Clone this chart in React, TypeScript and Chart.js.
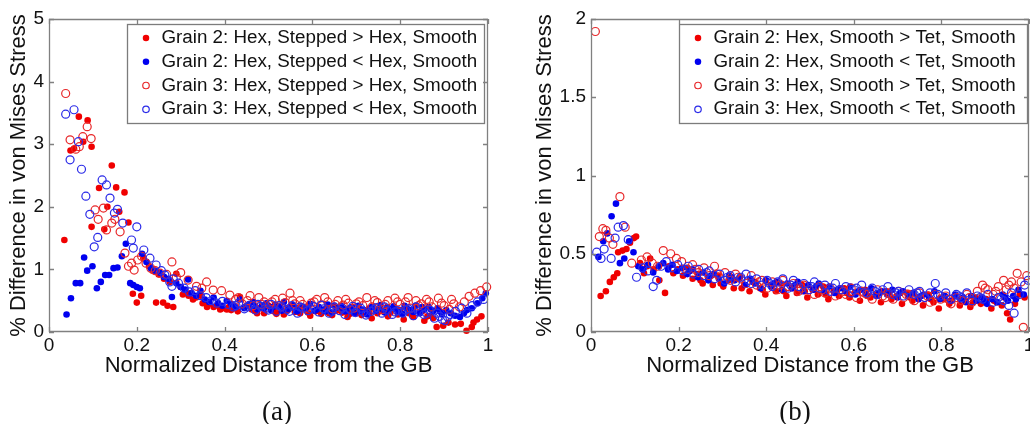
import React, { useEffect, useRef } from "react";
import { Chart, registerables } from "chart.js";

Chart.register(...registerables);

const SANS = "'Liberation Sans', Arial, Helvetica, sans-serif";
const SERIF = "'Liberation Serif', 'Times New Roman', serif";

// ---------- labels ----------
const xTitle = "Normalized Distance from the GB";
const yTitle = "% Difference in von Mises Stress";
const legendA = [
  "Grain 2: Hex, Stepped > Hex, Smooth",
  "Grain 2: Hex, Stepped < Hex, Smooth",
  "Grain 3: Hex, Stepped > Hex, Smooth",
  "Grain 3: Hex, Stepped < Hex, Smooth",
];
const legendB = [
  "Grain 2: Hex, Smooth > Tet, Smooth",
  "Grain 2: Hex, Smooth < Tet, Smooth",
  "Grain 3: Hex, Smooth > Tet, Smooth",
  "Grain 3: Hex, Smooth < Tet, Smooth",
];
const captionA = "(a)";
const captionB = "(b)";

// ---------- panel (a) data: [normalized distance, % difference] ----------
const a_g2Gt: number[][] = [
  [0.035,1.47],[0.049,2.90],[0.057,2.93],[0.068,3.44],[0.078,3.04],[0.088,3.38],[0.097,2.96],[0.097,1.68],
  [0.114,2.30],[0.126,1.64],[0.133,2.00],[0.143,2.66],[0.153,2.31],[0.160,1.92],[0.172,2.23],[0.181,1.75],
  [0.191,0.61],[0.200,0.47],[0.210,0.58],[0.244,0.47],[0.260,0.47],[0.270,0.42],[0.283,0.40],
  [0.215,1.18],[0.228,1.05],[0.236,0.98],[0.250,0.92],[0.262,0.85],[0.275,0.80],[0.290,0.93],[0.300,0.72],
  [0.310,0.66],[0.322,0.62],[0.335,0.55],[0.345,0.58],[0.355,0.50],[0.365,0.45],[0.375,0.40],[0.385,0.42],
  [0.395,0.38],[0.405,0.36],[0.415,0.35],[0.425,0.38],[0.435,0.56],[0.445,0.40],[0.455,0.44],[0.468,0.34],
  [0.480,0.38],[0.490,0.30],[0.500,0.42],[0.512,0.33],[0.525,0.36],[0.535,0.28],[0.548,0.40],[0.560,0.32],
  [0.572,0.30],[0.585,0.37],[0.595,0.26],[0.608,0.33],[0.620,0.29],[0.632,0.38],[0.645,0.27],[0.655,0.34],
  [0.668,0.31],[0.680,0.24],[0.690,0.36],[0.700,0.30],[0.712,0.27],[0.725,0.35],[0.735,0.22],[0.748,0.30],
  [0.760,0.33],[0.772,0.25],[0.785,0.38],[0.795,0.28],[0.808,0.20],[0.820,0.30],[0.830,0.24],[0.845,0.32],
  [0.855,0.18],[0.868,0.26],[0.875,0.22],[0.883,0.08],[0.898,0.10],[0.910,0.15],[0.925,0.12],[0.938,0.13],
  [0.951,0.02],[0.963,0.08],[0.967,0.15],[0.975,0.20],[0.985,0.25],
  [0.305,0.60],[0.318,0.58],[0.328,0.52],[0.350,0.46],[0.360,0.40],[0.390,0.36],[0.410,0.40],[0.430,0.33],
  [0.462,0.36],[0.474,0.30],[0.506,0.37],[0.518,0.29],[0.542,0.34],[0.566,0.38],[0.590,0.31],[0.614,0.36],
  [0.638,0.30],[0.662,0.37],[0.686,0.29],[0.706,0.33],[0.730,0.30],[0.754,0.36],[0.778,0.31],[0.800,0.35],
  [0.826,0.29],[0.850,0.33],[0.862,0.25],
];
const a_g2Lt: number[][] = [
  [0.040,0.28],[0.050,0.54],[0.061,0.78],[0.071,0.78],[0.080,1.19],[0.087,0.98],[0.099,1.05],[0.109,0.70],
  [0.118,0.80],[0.128,0.91],[0.137,0.91],[0.147,1.02],[0.156,1.03],[0.166,1.21],[0.175,1.41],[0.185,0.78],
  [0.192,0.75],[0.200,0.72],[0.207,0.70],
  [0.212,1.25],[0.222,1.12],[0.232,1.02],[0.242,0.98],[0.252,0.95],[0.262,0.88],[0.272,0.85],[0.280,0.56],
  [0.290,0.78],[0.300,0.72],[0.310,0.68],[0.317,0.84],[0.325,0.62],[0.335,0.58],[0.345,0.66],[0.355,0.52],
  [0.365,0.48],[0.375,0.55],[0.385,0.46],[0.395,0.42],[0.405,0.50],[0.415,0.45],[0.425,0.40],[0.435,0.52],
  [0.445,0.38],[0.455,0.44],[0.465,0.48],[0.475,0.36],[0.485,0.42],[0.495,0.46],[0.505,0.35],[0.515,0.44],
  [0.525,0.40],[0.535,0.48],[0.545,0.37],[0.555,0.43],[0.565,0.33],[0.575,0.41],[0.585,0.38],[0.595,0.45],
  [0.605,0.34],[0.615,0.40],[0.625,0.36],[0.635,0.44],[0.645,0.31],[0.655,0.39],[0.665,0.42],[0.675,0.33],
  [0.685,0.38],[0.695,0.30],[0.705,0.42],[0.715,0.36],[0.725,0.28],[0.735,0.40],[0.745,0.34],[0.755,0.43],
  [0.765,0.31],[0.775,0.37],[0.785,0.41],[0.795,0.33],[0.805,0.29],[0.815,0.38],[0.825,0.35],[0.835,0.42],
  [0.845,0.30],[0.855,0.36],[0.865,0.40],[0.875,0.33],[0.885,0.38],[0.895,0.28],[0.905,0.35],[0.915,0.30],
  [0.925,0.26],[0.936,0.24],[0.945,0.30],[0.952,0.35],[0.963,0.38],[0.976,0.46],[0.987,0.54],[0.995,0.62],
  [0.470,0.40],[0.490,0.38],[0.510,0.40],[0.530,0.34],[0.550,0.39],[0.570,0.37],[0.590,0.41],[0.610,0.36],
  [0.630,0.33],[0.650,0.42],[0.670,0.37],[0.690,0.40],[0.710,0.33],[0.730,0.38],[0.750,0.36],[0.770,0.40],
  [0.790,0.36],[0.810,0.42],[0.830,0.32],[0.850,0.40],[0.870,0.36],[0.890,0.33],
];
const a_g3Gt: number[][] = [
  [0.038,3.81],[0.048,3.07],[0.061,2.92],[0.069,2.96],[0.077,3.12],[0.087,3.28],[0.096,3.09],[0.105,1.95],
  [0.112,1.80],[0.124,1.98],[0.131,1.63],[0.143,1.74],[0.150,1.80],[0.162,1.60],[0.173,1.26],[0.181,1.05],
  [0.188,1.10],[0.194,0.99],[0.202,1.15],[0.211,1.21],[0.221,1.10],[0.232,1.02],[0.242,0.98],[0.253,0.94],
  [0.268,0.92],[0.280,1.12],[0.290,0.88],[0.300,0.95],[0.317,0.83],[0.336,0.73],[0.348,0.70],[0.359,0.80],
  [0.374,0.67],[0.393,0.66],[0.412,0.59],
  [0.425,0.52],[0.440,0.45],[0.452,0.50],[0.465,0.42],[0.478,0.55],[0.490,0.48],[0.502,0.44],[0.515,0.52],
  [0.528,0.40],[0.538,0.47],[0.549,0.62],[0.560,0.45],[0.572,0.50],[0.585,0.38],[0.597,0.46],[0.610,0.52],
  [0.622,0.42],[0.635,0.48],[0.646,0.37],[0.658,0.50],[0.670,0.43],[0.682,0.46],[0.694,0.38],[0.706,0.48],
  [0.715,0.42],[0.724,0.55],[0.736,0.40],[0.748,0.47],[0.760,0.36],[0.772,0.50],[0.788,0.54],[0.800,0.44],
  [0.812,0.48],[0.824,0.38],[0.836,0.50],[0.848,0.45],[0.860,0.52],[0.872,0.40],[0.887,0.54],[0.900,0.42],
  [0.912,0.36],[0.922,0.45],[0.935,0.40],[0.946,0.48],[0.957,0.57],[0.970,0.62],[0.983,0.66],[0.997,0.72],
  [0.432,0.55],[0.458,0.58],[0.484,0.44],[0.508,0.48],[0.532,0.54],[0.555,0.50],[0.578,0.44],[0.604,0.48],
  [0.628,0.55],[0.652,0.44],[0.676,0.52],[0.700,0.45],[0.742,0.50],[0.766,0.44],[0.794,0.48],[0.818,0.55],
  [0.842,0.42],[0.866,0.48],[0.894,0.46],[0.917,0.52],
];
const a_g3Lt: number[][] = [
  [0.038,3.48],[0.057,3.55],[0.067,3.04],[0.048,2.75],[0.074,2.60],[0.084,2.17],[0.093,1.88],[0.103,1.36],
  [0.111,1.51],[0.121,2.43],[0.131,2.35],[0.139,2.14],[0.149,1.90],[0.156,1.96],[0.168,1.74],[0.188,1.47],
  [0.192,1.34],[0.200,1.68],[0.216,1.31],[0.230,1.18],[0.244,1.07],[0.256,0.98],[0.264,0.91],[0.275,0.80],
  [0.280,0.73],[0.283,0.85],[0.295,0.78],[0.308,0.70],[0.320,0.64],[0.333,0.66],[0.345,0.58],[0.358,0.55],
  [0.370,0.50],[0.382,0.46],[0.395,0.49],[0.408,0.44],
  [0.420,0.40],[0.432,0.46],[0.445,0.37],[0.458,0.43],[0.470,0.35],[0.482,0.41],[0.494,0.38],[0.506,0.44],
  [0.518,0.33],[0.530,0.40],[0.542,0.36],[0.554,0.42],[0.566,0.30],[0.578,0.38],[0.590,0.34],[0.602,0.41],
  [0.614,0.32],[0.626,0.37],[0.638,0.30],[0.650,0.40],[0.662,0.34],[0.674,0.28],[0.686,0.36],[0.698,0.31],
  [0.710,0.38],[0.722,0.27],[0.734,0.33],[0.746,0.39],[0.758,0.30],[0.770,0.35],[0.782,0.28],[0.794,0.34],
  [0.806,0.30],[0.818,0.37],[0.830,0.26],[0.842,0.32],[0.854,0.28],[0.866,0.35],[0.878,0.22],[0.890,0.25],
  [0.902,0.18],[0.914,0.28],[0.926,0.33],[0.940,0.38],[0.952,0.30],[0.964,0.42],[0.976,0.48],[0.990,0.52],
  [0.426,0.42],[0.452,0.40],[0.476,0.44],[0.500,0.35],[0.524,0.42],[0.548,0.33],[0.572,0.40],[0.596,0.37],
  [0.620,0.43],[0.644,0.33],[0.668,0.38],[0.692,0.41],[0.716,0.32],[0.740,0.36],[0.764,0.40],[0.788,0.32],
  [0.812,0.35],[0.836,0.40],[0.860,0.30],[0.884,0.30],[0.896,0.20],[0.908,0.24],
];

// ---------- panel (b) data ----------
const b_g2Gt: number[][] = [
  [0.022,0.23],[0.034,0.26],[0.043,0.32],[0.052,0.35],[0.060,0.375],[0.062,0.51],[0.072,0.52],[0.081,0.53],
  [0.089,0.57],[0.098,0.60],[0.103,0.61],[0.112,0.44],[0.121,0.375],[0.128,0.42],[0.135,0.47],[0.143,0.40],
  [0.156,0.33],[0.169,0.25],[0.178,0.42],[0.188,0.375],[0.198,0.40],[0.210,0.36],[0.220,0.41],[0.232,0.34],
  [0.244,0.37],[0.255,0.31],[0.267,0.35],[0.278,0.30],[0.290,0.36],[0.302,0.29],[0.314,0.33],[0.326,0.28],
  [0.338,0.34],[0.350,0.30],[0.362,0.26],[0.374,0.32],[0.386,0.28],[0.398,0.24],[0.410,0.30],[0.422,0.26],
  [0.434,0.31],[0.446,0.23],[0.458,0.28],[0.470,0.25],[0.482,0.30],[0.494,0.22],[0.506,0.27],[0.518,0.24],
  [0.530,0.29],[0.542,0.21],[0.554,0.26],[0.566,0.23],[0.578,0.28],[0.590,0.22],[0.602,0.25],[0.614,0.20],
  [0.626,0.27],[0.638,0.22],[0.650,0.24],[0.662,0.19],[0.674,0.26],[0.686,0.21],[0.698,0.23],[0.710,0.18],
  [0.722,0.25],[0.734,0.20],[0.746,0.22],[0.758,0.17],[0.770,0.24],[0.782,0.19],[0.794,0.15],[0.806,0.21],
  [0.818,0.18],[0.830,0.23],[0.842,0.17],[0.854,0.20],[0.866,0.16],[0.878,0.22],[0.890,0.18],[0.902,0.21],
  [0.914,0.15],[0.926,0.19],[0.938,0.17],[0.950,0.12],[0.957,0.08],[0.968,0.18],[0.979,0.24],[0.990,0.22],
  [0.250,0.33],[0.296,0.31],[0.344,0.28],[0.392,0.27],[0.440,0.26],[0.488,0.26],[0.536,0.24],[0.584,0.25],
  [0.632,0.23],[0.680,0.24],[0.728,0.22],[0.776,0.21],[0.824,0.20],[0.872,0.19],[0.920,0.20],[0.944,0.22],
];
const b_g2Lt: number[][] = [
  [0.017,0.48],[0.028,0.58],[0.037,0.63],[0.047,0.74],[0.057,0.82],[0.066,0.44],[0.076,0.47],[0.087,0.58],
  [0.097,0.51],[0.108,0.42],[0.118,0.40],[0.130,0.43],[0.142,0.38],[0.155,0.42],[0.165,0.44],[0.176,0.40],
  [0.186,0.43],[0.196,0.39],[0.208,0.41],[0.220,0.37],[0.232,0.40],[0.244,0.35],[0.256,0.38],[0.268,0.33],
  [0.280,0.37],[0.292,0.34],[0.304,0.31],[0.316,0.36],[0.328,0.33],[0.340,0.35],[0.352,0.30],[0.364,0.34],
  [0.376,0.31],[0.388,0.28],[0.400,0.33],[0.412,0.29],[0.424,0.32],[0.436,0.27],[0.448,0.31],[0.460,0.28],
  [0.472,0.32],[0.484,0.26],[0.496,0.30],[0.508,0.27],[0.520,0.31],[0.532,0.26],[0.544,0.29],[0.556,0.25],
  [0.568,0.28],[0.580,0.26],[0.592,0.29],[0.604,0.24],[0.616,0.27],[0.628,0.25],[0.640,0.28],[0.652,0.23],
  [0.664,0.26],[0.676,0.24],[0.688,0.27],[0.700,0.22],[0.712,0.26],[0.724,0.23],[0.736,0.25],[0.748,0.21],
  [0.760,0.24],[0.772,0.22],[0.784,0.26],[0.796,0.21],[0.808,0.23],[0.820,0.20],[0.832,0.24],[0.844,0.21],
  [0.856,0.19],[0.868,0.23],[0.880,0.20],[0.892,0.22],[0.904,0.18],[0.916,0.21],[0.928,0.19],[0.940,0.24],
  [0.952,0.20],[0.964,0.23],[0.976,0.27],[0.988,0.24],
  [0.226,0.39],[0.274,0.36],[0.322,0.35],[0.370,0.32],[0.418,0.31],[0.466,0.30],[0.514,0.29],[0.562,0.27],
  [0.610,0.26],[0.658,0.25],[0.706,0.25],[0.754,0.23],[0.802,0.22],[0.850,0.22],[0.898,0.20],[0.946,0.22],
  [0.970,0.21],
];
const b_g3Gt: number[][] = [
  [0.010,1.92],[0.019,0.61],[0.027,0.66],[0.034,0.65],[0.042,0.60],[0.050,0.56],[0.066,0.865],[0.078,0.67],
  [0.093,0.44],[0.115,0.46],[0.128,0.48],[0.140,0.44],[0.152,0.42],[0.165,0.52],[0.182,0.50],[0.195,0.47],
  [0.207,0.45],[0.220,0.40],[0.232,0.43],[0.245,0.38],[0.258,0.41],[0.270,0.36],[0.282,0.42],[0.294,0.35],
  [0.306,0.38],[0.318,0.33],[0.330,0.37],[0.342,0.34],[0.354,0.31],[0.366,0.36],[0.378,0.30],[0.390,0.33],
  [0.402,0.28],[0.414,0.32],[0.426,0.27],[0.438,0.33],[0.450,0.29],[0.462,0.31],[0.474,0.26],[0.486,0.30],
  [0.498,0.27],[0.510,0.24],[0.522,0.29],[0.534,0.25],[0.546,0.28],[0.558,0.23],[0.570,0.27],[0.582,0.24],
  [0.594,0.28],[0.606,0.22],[0.618,0.26],[0.630,0.24],[0.642,0.21],[0.654,0.27],[0.666,0.23],[0.678,0.25],
  [0.690,0.21],[0.702,0.26],[0.714,0.22],[0.726,0.24],[0.738,0.20],[0.750,0.25],[0.762,0.22],[0.774,0.19],
  [0.786,0.24],[0.798,0.21],[0.810,0.23],[0.822,0.18],[0.834,0.22],[0.846,0.20],[0.858,0.24],[0.870,0.19],
  [0.882,0.26],[0.894,0.30],[0.906,0.27],[0.918,0.24],[0.930,0.29],[0.942,0.33],[0.954,0.30],[0.966,0.28],
  [0.973,0.375],[0.982,0.32],[0.987,0.03],[0.995,0.36],
  [0.238,0.40],[0.288,0.37],[0.336,0.35],[0.384,0.32],[0.432,0.30],[0.480,0.28],[0.528,0.27],[0.576,0.26],
  [0.624,0.25],[0.672,0.22],[0.720,0.24],[0.768,0.23],[0.816,0.21],[0.864,0.22],[0.900,0.28],[0.924,0.26],
  [0.948,0.27],[0.960,0.32],
];
const b_g3Lt: number[][] = [
  [0.013,0.51],[0.023,0.47],[0.030,0.53],[0.046,0.47],[0.055,0.60],[0.062,0.67],[0.074,0.68],[0.085,0.59],
  [0.104,0.35],[0.118,0.41],[0.130,0.39],[0.142,0.29],[0.150,0.33],[0.160,0.42],[0.172,0.45],[0.185,0.41],
  [0.198,0.43],[0.210,0.39],[0.222,0.42],[0.234,0.37],[0.246,0.40],[0.258,0.36],[0.270,0.39],[0.282,0.34],
  [0.294,0.37],[0.306,0.33],[0.318,0.36],[0.330,0.32],[0.342,0.35],[0.354,0.37],[0.366,0.31],[0.378,0.34],
  [0.390,0.30],[0.402,0.33],[0.414,0.29],[0.426,0.32],[0.438,0.34],[0.450,0.28],[0.462,0.33],[0.474,0.29],
  [0.486,0.31],[0.498,0.27],[0.510,0.32],[0.522,0.28],[0.534,0.30],[0.546,0.26],[0.558,0.31],[0.570,0.27],
  [0.582,0.29],[0.594,0.25],[0.606,0.28],[0.618,0.30],[0.630,0.25],[0.642,0.28],[0.654,0.24],[0.666,0.27],
  [0.678,0.29],[0.690,0.24],[0.702,0.26],[0.714,0.23],[0.726,0.27],[0.738,0.24],[0.750,0.26],[0.762,0.22],
  [0.774,0.25],[0.786,0.31],[0.798,0.23],[0.810,0.25],[0.822,0.21],[0.834,0.24],[0.846,0.22],[0.858,0.25],
  [0.870,0.20],[0.882,0.23],[0.894,0.21],[0.906,0.24],[0.918,0.19],[0.930,0.22],[0.942,0.20],[0.954,0.17],
  [0.966,0.12],[0.978,0.24],[0.990,0.30],[0.998,0.33],
  [0.216,0.40],[0.264,0.38],[0.312,0.35],[0.360,0.33],[0.408,0.31],[0.456,0.30],[0.504,0.29],[0.552,0.28],
  [0.600,0.27],[0.648,0.26],[0.696,0.25],[0.744,0.25],[0.792,0.24],[0.840,0.23],[0.888,0.22],[0.936,0.21],
  [0.960,0.25],
];

// ---------- axes ----------
const xMax = 1;
const xStep = 0.2;
const yMaxA = 5;
const yStepA = 1;
const yMaxB = 2;
const yStepB = 0.5;

const RED = "#f00000";
const BLUE = "#0000f0";
const RED_O = "#e8282a";
const BLUE_O = "#2a2ae8";

const toPts = (arr: number[][]) => arr.map(([x, y]) => ({ x, y }));
const fmt = (v: any) => String(+Number(v).toFixed(3));

function makeDatasets(labels: string[], g2gt: number[][], g2lt: number[][], g3gt: number[][], g3lt: number[][]) {
  return [
    { label: labels[0], data: toPts(g2gt), pointStyle: "circle", pointRadius: 3.3, backgroundColor: RED, borderColor: RED, borderWidth: 0, order: 4 },
    { label: labels[1], data: toPts(g2lt), pointStyle: "circle", pointRadius: 3.3, backgroundColor: BLUE, borderColor: BLUE, borderWidth: 0, order: 3 },
    { label: labels[2], data: toPts(g3gt), pointStyle: "circle", pointRadius: 4, backgroundColor: "rgba(0,0,0,0)", borderColor: RED_O, borderWidth: 1.2, order: 2 },
    { label: labels[3], data: toPts(g3lt), pointStyle: "circle", pointRadius: 4, backgroundColor: "rgba(0,0,0,0)", borderColor: BLUE_O, borderWidth: 1.2, order: 1 },
  ].map((d) => ({ ...d, clip: false as any, showLine: false }));
}

const framePlugin = {
  id: "matlabFrame",
  afterLayout(chart: any, _args: any, opts: any) {
    const lg = chart.legend;
    if (lg && opts && opts.legendX != null) {
      const w = lg.width;
      const h = lg.height;
      lg.left = opts.legendX;
      lg.top = opts.legendY;
      lg.right = lg.left + w;
      lg.bottom = lg.top + h;
    }
  },
  beforeDraw(chart: any, _args: any, opts: any) {
    const ctx = chart.ctx;
    const b = opts && opts.box;
    if (!b) return;
    ctx.save();
    ctx.fillStyle = "#ffffff";
    ctx.fillRect(b[0], b[1], b[2] - b[0], b[3] - b[1]);
    ctx.strokeStyle = "#7c7c7c";
    ctx.lineWidth = 1.3;
    ctx.strokeRect(b[0] + 0.5, b[1] + 0.5, b[2] - b[0], b[3] - b[1]);
    ctx.restore();
  },
  afterDraw(chart: any) {
    const ctx = chart.ctx;
    const a = chart.chartArea;
    const xs = chart.scales.x;
    const ys = chart.scales.y;
    ctx.save();
    ctx.strokeStyle = "#808080";
    ctx.lineWidth = 1.3;
    ctx.beginPath();
    ctx.rect(a.left + 0.5, a.top + 0.5, a.right - a.left - 1, a.bottom - a.top - 1);
    ctx.stroke();
    const tl = 5;
    ctx.beginPath();
    xs.ticks.forEach((t: any) => {
      const px = Math.round(xs.getPixelForValue(t.value)) + 0.5;
      ctx.moveTo(px, a.bottom);
      ctx.lineTo(px, a.bottom - tl);
      ctx.moveTo(px, a.top);
      ctx.lineTo(px, a.top + tl);
    });
    ys.ticks.forEach((t: any) => {
      const py = Math.round(ys.getPixelForValue(t.value)) + 0.5;
      ctx.moveTo(a.left, py);
      ctx.lineTo(a.left + tl, py);
      ctx.moveTo(a.right, py);
      ctx.lineTo(a.right - tl, py);
    });
    ctx.stroke();
    ctx.restore();
  },
};

interface PanelProps {
  labels: string[];
  g2gt: number[][];
  g2lt: number[][];
  g3gt: number[][];
  g3lt: number[][];
  yMax: number;
  yStep: number;
  width: number;
  yAxisWidth: number;
  yTitlePad: number;
  rightPad: number;
  legendX: number;
  box: number[];
}

function Panel(p: PanelProps) {
  const ref = useRef<HTMLCanvasElement | null>(null);
  useEffect(() => {
    if (!ref.current) return;
    const tickFont = { family: SANS, size: 19 };
    const titleFont = { family: SANS, size: 22 };
    const chart = new Chart(ref.current, {
      type: "scatter",
      data: { datasets: makeDatasets(p.labels, p.g2gt, p.g2lt, p.g3gt, p.g3lt) as any },
      options: {
        responsive: false,
        animation: false,
        events: [],
        layout: { padding: { top: 19, right: p.rightPad, left: 0, bottom: 0 } },
        scales: {
          x: {
            type: "linear",
            min: 0,
            max: xMax,
            ticks: { stepSize: xStep, font: tickFont, color: "#111", padding: 2, maxRotation: 0, autoSkip: false, callback: fmt },
            grid: { display: false, drawTicks: false },
            border: { display: false },
            title: { display: true, text: xTitle, font: titleFont, color: "#111", padding: { top: 0, bottom: 45 } },
            afterFit: (s: any) => { s.height = 92; },
          },
          y: {
            type: "linear",
            min: 0,
            max: p.yMax,
            ticks: { stepSize: p.yStep, font: tickFont, color: "#111", padding: 5, callback: fmt },
            grid: { display: false, drawTicks: false },
            border: { display: false },
            title: { display: true, text: yTitle, font: titleFont, color: "#111", padding: { top: p.yTitlePad, bottom: 0 } },
            afterFit: (s: any) => { s.width = p.yAxisWidth; },
          },
        },
        plugins: {
          legend: {
            position: "chartArea" as any,
            align: "start",
            labels: {
              usePointStyle: true,
              boxWidth: 12,
              boxHeight: 4.6,
              padding: 5,
              color: "#111",
              textAlign: "left",
              font: { family: SANS, size: 18.8 },
              sort: (a: any, b: any) => a.datasetIndex - b.datasetIndex,
            },
          },
          tooltip: { enabled: false },
          matlabFrame: { legendX: p.legendX, legendY: 23.5, box: p.box },
        } as any,
      },
      plugins: [framePlugin],
    });
    return () => chart.destroy();
  }, []);
  return <canvas ref={ref} width={p.width} height={424} style={{ display: "block", width: p.width, height: 424 }} />;
}

export default function App() {
  const captionStyle: React.CSSProperties = {
    position: "absolute",
    top: 396,
    fontFamily: SERIF,
    fontSize: 27,
    color: "#111",
    transform: "translateX(-50%)",
    whiteSpace: "nowrap",
    lineHeight: "30px",
  };
  return (
    <div style={{ position: "absolute", left: 0, top: 0, width: 1030, height: 424, overflow: "hidden", background: "#fff" }}>
      <div style={{ position: "absolute", left: 0, top: 0 }}>
        <Panel labels={legendA} g2gt={a_g2Gt} g2lt={a_g2Lt} g3gt={a_g3Gt} g3lt={a_g3Lt}
          yMax={yMaxA} yStep={yStepA} width={515} yAxisWidth={49} yTitlePad={6}
          rightPad={27} legendX={135} box={[127, 24, 484, 123]} />
      </div>
      <div style={{ position: "absolute", left: 515, top: 0 }}>
        <Panel labels={legendB} g2gt={b_g2Gt} g2lt={b_g2Lt} g3gt={b_g3Gt} g3lt={b_g3Lt}
          yMax={yMaxB} yStep={yStepB} width={540} yAxisWidth={76} yTitlePad={17}
          rightPad={26} legendX={172} box={[164, 24, 512, 123]} />
      </div>
      <div style={{ ...captionStyle, left: 277 }}>{captionA}</div>
      <div style={{ ...captionStyle, left: 795 }}>{captionB}</div>
    </div>
  );
}
